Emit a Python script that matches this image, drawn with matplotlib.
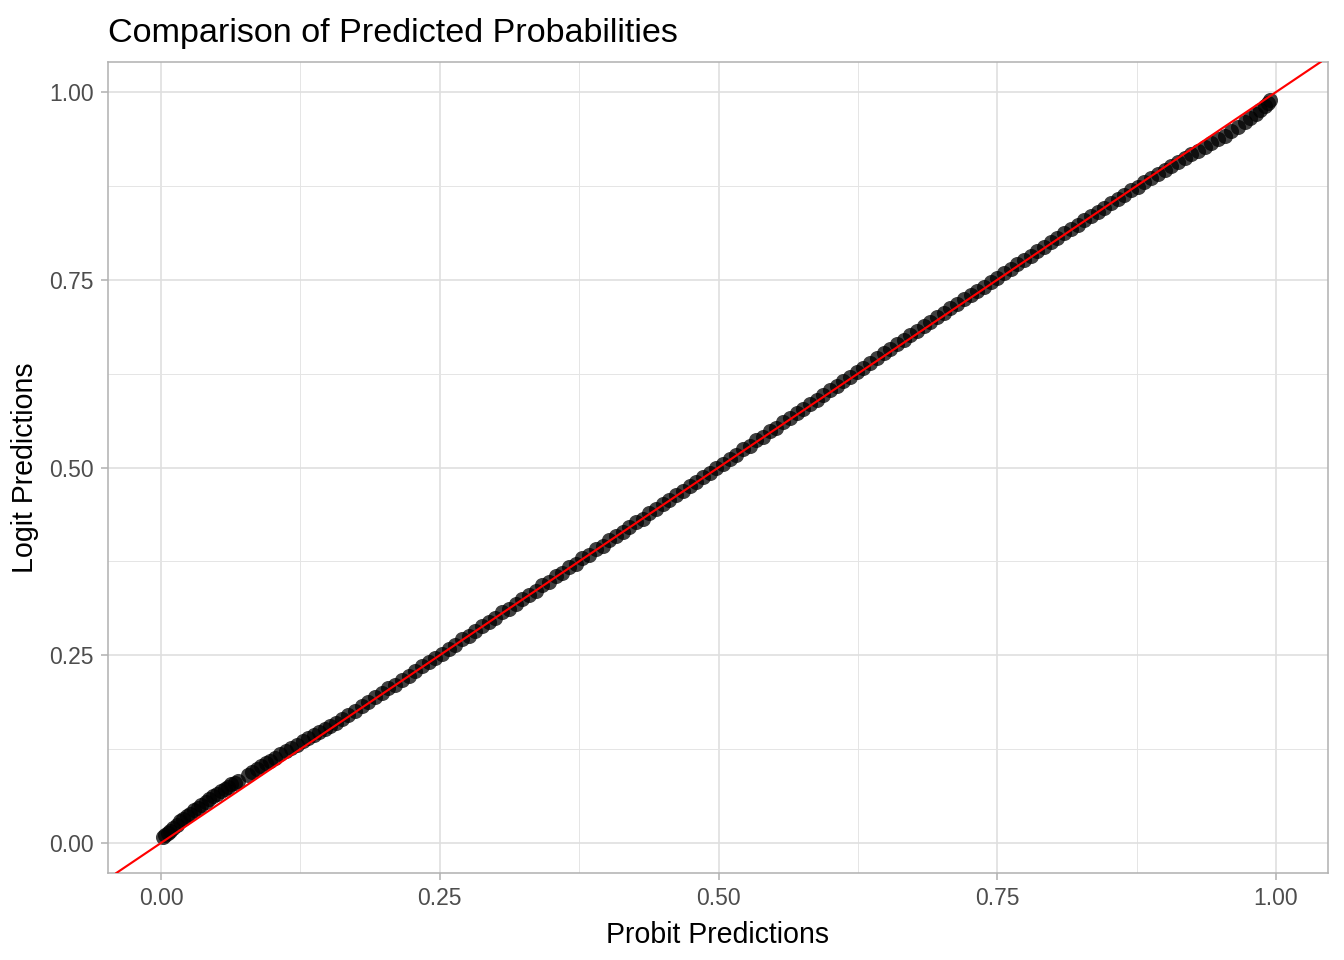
import matplotlib
matplotlib.use("Agg")
import matplotlib.pyplot as plt
from matplotlib.ticker import MultipleLocator

# probit predicted probabilities (x) and logit predicted probabilities (y)
probit = [0.002, 0.004, 0.006, 0.008, 0.011, 0.014, 0.017, 0.020, 0.023, 0.026,
          0.030, 0.033, 0.036, 0.040, 0.043, 0.047, 0.050, 0.054, 0.057, 0.060,
          0.063, 0.066, 0.069,
          0.078, 0.082, 0.086, 0.090, 0.094, 0.098, 0.102, 0.107, 0.112, 0.117,
          0.122, 0.127, 0.132, 0.137, 0.142, 0.147, 0.152, 0.157, 0.162, 0.168,
          0.174, 0.180, 0.186, 0.192, 0.198, 0.204, 0.210, 0.216, 0.222, 0.228,
          0.234, 0.240, 0.246, 0.252, 0.258, 0.264, 0.270, 0.276, 0.282, 0.288,
          0.294, 0.300, 0.306, 0.312, 0.318, 0.324, 0.330, 0.336, 0.342, 0.348,
          0.354, 0.360, 0.366, 0.372, 0.378, 0.384, 0.390, 0.396, 0.402, 0.408,
          0.414, 0.420, 0.426, 0.432, 0.438, 0.444, 0.450, 0.456, 0.462, 0.468,
          0.474, 0.480, 0.486, 0.492, 0.498, 0.504, 0.510, 0.516, 0.522, 0.528,
          0.534, 0.540, 0.546, 0.552, 0.558, 0.564, 0.570, 0.576, 0.582, 0.588,
          0.594, 0.600, 0.606, 0.612, 0.618, 0.624, 0.630, 0.636, 0.642, 0.648,
          0.654, 0.660, 0.666, 0.672, 0.678, 0.684, 0.690, 0.696, 0.702, 0.708,
          0.714, 0.720, 0.726, 0.732, 0.738, 0.744, 0.750, 0.756, 0.762, 0.768,
          0.774, 0.780, 0.786, 0.792, 0.798, 0.804, 0.810, 0.816, 0.822, 0.828,
          0.834, 0.840, 0.846, 0.852, 0.858, 0.864, 0.870, 0.876, 0.882, 0.888,
          0.894, 0.900, 0.906, 0.912, 0.918, 0.924, 0.930, 0.936, 0.942, 0.948,
          0.954, 0.960, 0.966, 0.972, 0.977, 0.982, 0.986, 0.990, 0.993, 0.995]

logit = [0.008, 0.011, 0.013, 0.016, 0.020, 0.024, 0.029, 0.032, 0.036, 0.039,
         0.044, 0.047, 0.051, 0.055, 0.058, 0.062, 0.065, 0.069, 0.072, 0.075,
         0.078, 0.080, 0.083,
         0.090, 0.094, 0.098, 0.102, 0.106, 0.109, 0.113, 0.118, 0.122, 0.127,
         0.131, 0.136, 0.140, 0.144, 0.148, 0.152, 0.156, 0.160, 0.165, 0.171,
         0.176, 0.182, 0.188, 0.194, 0.200, 0.206, 0.211, 0.217, 0.223, 0.229,
         0.235, 0.241, 0.246, 0.252, 0.258, 0.264, 0.271, 0.276, 0.282, 0.289,
         0.294, 0.300, 0.307, 0.312, 0.318, 0.325, 0.330, 0.336, 0.343, 0.348,
         0.355, 0.360, 0.367, 0.372, 0.379, 0.384, 0.391, 0.396, 0.403, 0.409,
         0.414, 0.421, 0.427, 0.432, 0.439, 0.445, 0.451, 0.457, 0.463, 0.469,
         0.475, 0.481, 0.487, 0.493, 0.499, 0.505, 0.511, 0.517, 0.524, 0.529,
         0.536, 0.541, 0.548, 0.553, 0.560, 0.566, 0.572, 0.578, 0.584, 0.590,
         0.597, 0.603, 0.609, 0.615, 0.621, 0.627, 0.633, 0.639, 0.646, 0.652,
         0.658, 0.664, 0.670, 0.676, 0.682, 0.688, 0.694, 0.700, 0.706, 0.712,
         0.718, 0.724, 0.730, 0.735, 0.741, 0.747, 0.753, 0.759, 0.765, 0.771,
         0.776, 0.782, 0.788, 0.794, 0.800, 0.806, 0.812, 0.817, 0.823, 0.829,
         0.835, 0.840, 0.846, 0.852, 0.857, 0.863, 0.869, 0.874, 0.880, 0.885,
         0.891, 0.896, 0.901, 0.907, 0.912, 0.917, 0.922, 0.927, 0.932, 0.937,
         0.942, 0.948, 0.954, 0.960, 0.965, 0.971, 0.976, 0.982, 0.986, 0.990]

ticks = [0.00, 0.25, 0.50, 0.75, 1.00]
tick_labels = ["0.00", "0.25", "0.50", "0.75", "1.00"]

plt.rcParams['font.family'] = ['Liberation Sans', 'DejaVu Sans']

fig = plt.figure(figsize=(7, 5), dpi=192)
ax = fig.add_axes([108/1344, 1 - 873/960, (1328 - 108)/1344, (873 - 62)/960])

# points
ax.scatter(probit, logit, s=32, color='black', alpha=0.75, linewidths=0, zorder=3)
# reference line y = x
ax.axline((0, 0), slope=1, color='red', linewidth=0.8, zorder=4)

ax.set_xlim(-0.0475, 1.0466)
ax.set_ylim(-0.04, 1.04)

# grid like theme_light
ax.set_xticks(ticks)
ax.set_xticklabels(tick_labels)
ax.set_yticks(ticks)
ax.set_yticklabels(tick_labels)
ax.xaxis.set_minor_locator(MultipleLocator(0.125))
ax.yaxis.set_minor_locator(MultipleLocator(0.125))
ax.grid(which='major', color='#DEDEDE', linewidth=0.6, zorder=0)
ax.grid(which='minor', color='#E4E4E4', linewidth=0.35, zorder=0)
ax.set_axisbelow(True)
ax.tick_params(which='major', length=2.75, width=0.6, color='#B3B3B3',
               labelsize=8.6, labelcolor='#4D4D4D', pad=2.5)
ax.tick_params(which='minor', length=0)
for sp in ax.spines.values():
    sp.set_color('#B3B3B3')
    sp.set_linewidth(0.6)

ax.set_xlabel('Probit Predictions', fontsize=10.7, color='black', labelpad=4)
ax.set_ylabel('Logit Predictions', fontsize=10.7, color='black', labelpad=4)
fig.text(108/1344, 1 - 42/960, 'Comparison of Predicted Probabilities',
         fontsize=12.8, color='black', ha='left', va='baseline')

fig.savefig('out.png', dpi=192)
